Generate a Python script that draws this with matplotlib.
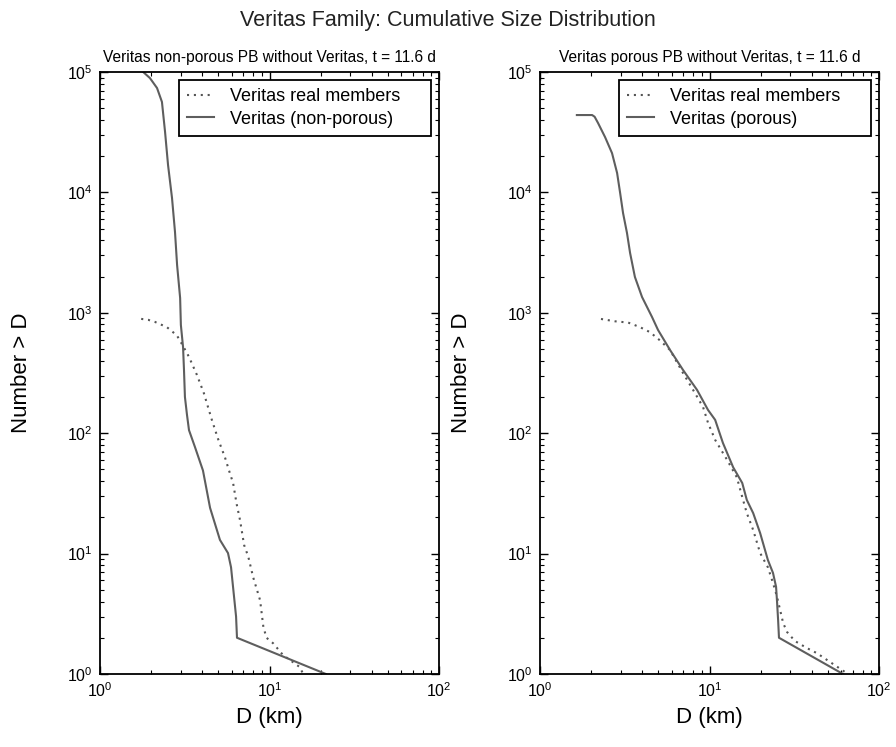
import numpy as np
import matplotlib
matplotlib.use("Agg")
import matplotlib.pyplot as plt

plt.rcParams["font.family"] = ["Liberation Sans", "DejaVu Sans"]
plt.rcParams["mathtext.default"] = "regular"

# left panel: non-porous
np_real_d = [1.75, 1.92, 2.11, 2.48, 2.84, 3.09, 3.35, 3.73, 4.1, 4.57, 4.98, 5.46, 5.77,
             6.1, 6.4, 6.7, 7.08, 7.5, 8.0, 8.8, 9.2, 9.6, 10.5, 12.0, 15.1, 15.8]
np_real_n = [890, 875, 840, 760, 650, 530, 430, 305, 215, 129, 89, 63, 49,
             38.5, 25.8, 19, 11.8, 9.4, 6.4, 4.1, 2.46, 2.0, 1.8, 1.44, 1.14, 1.0]
np_sim_d = [1.65, 1.77, 1.97, 2.17, 2.32, 2.42, 2.52, 2.66, 2.77, 2.85, 2.97, 3.0, 3.09,
            3.13, 3.17, 3.26, 3.35, 3.63, 4.05, 4.46, 5.1, 5.69, 5.93, 6.35, 6.43, 21.5]
np_sim_n = [1.15e5, 1.02e5, 8.91e4, 7.36e4, 5.64e4, 3.18e4, 1.69e4, 8980, 4690, 2490, 1327,
            792, 520, 335, 200, 142, 106, 77, 49, 24, 13, 10.1, 7.7, 3.0, 2.0, 1.0]

# right panel: porous
p_real_d = [2.29, 2.77, 3.31, 3.89, 4.46, 5.1, 5.85, 6.98, 8.0, 9.16, 9.8, 10.8, 12.7,
            14.5, 15.6, 16.6, 18.1, 19.9, 22.1, 23.7, 25.0, 26.1, 27.2, 28.7, 31.9,
            37.6, 43.0, 65.6]
p_real_n = [889, 850, 830, 760, 690, 590, 491, 316, 229, 165, 122, 88, 60,
            43, 29.5, 21.7, 15.7, 10.1, 7.7, 5.7, 4.4, 3.4, 2.65, 2.23, 1.88,
            1.64, 1.49, 1.0]
p_sim_d = [1.65, 2.03, 2.1, 2.20, 2.42, 2.66, 2.85, 2.97, 3.09, 3.26, 3.40, 3.63, 4.0,
           4.58, 4.97, 5.85, 6.98, 8.44, 9.8, 10.8, 12.0, 13.8, 15.6, 16.6, 18.1,
           19.9, 22.1, 23.7, 24.7, 25.0, 25.4, 25.7, 61.3]
p_sim_n = [43900, 43900, 42500, 37700, 28800, 21200, 14500, 9890, 6740, 4600, 3140, 1985,
           1352, 923, 720, 491, 335, 229, 156, 129, 83, 52, 38.6, 27.9, 21.7,
           14.8, 8.85, 6.9, 5.3, 4.1, 2.8, 2.0, 1.0]

panels = [
    ("Veritas non-porous PB without Veritas, t = 11.6 d", "Veritas (non-porous)",
     np_real_d, np_real_n, np_sim_d, np_sim_n),
    ("Veritas porous PB without Veritas, t = 11.6 d", "Veritas (porous)",
     p_real_d, p_real_n, p_sim_d, p_sim_n),
]

fig = plt.figure(figsize=(8.96, 7.47), dpi=100)
fig.text(0.5, 0.973, "Veritas Family: Cumulative Size Distribution",
         ha="center", va="center", fontsize=15.5, color="#222222")

lefts = [100 / 896, 540 / 896]
for left, (title, sim_label, rd, rn, sd, sn) in zip(lefts, panels):
    ax = fig.add_axes([left, 73 / 747, 339 / 896, 602 / 747])
    ax.plot(rd, rn, color="#555555", lw=1.5, linestyle=(0, (1, 2.3)),
            label="Veritas real members")
    ax.plot(sd, sn, color="#5e5e5e", lw=1.5, label=sim_label)
    ax.set_xscale("log")
    ax.set_yscale("log")
    ax.set_xlim(1, 100)
    ax.set_ylim(1, 1e5)
    ax.tick_params(which="both", direction="in", top=True, right=True,
                   labelsize=11.5, pad=5)
    ax.tick_params(which="major", length=6, width=1)
    ax.tick_params(which="minor", length=3, width=0.8)
    for s in ax.spines.values():
        s.set_linewidth(1.3)
    ax.set_title(title, fontsize=11.2, pad=7)
    ax.set_xlabel("D (km)", fontsize=16)
    ax.set_ylabel("Number > D", fontsize=16)
    ax.xaxis.set_label_coords(0.5, -0.055)
    ax.yaxis.set_label_coords(-0.2, 0.5)
    leg = ax.legend(loc="upper left", bbox_to_anchor=(0.233, 0.0, 0.743, 0.9867),
                    mode="expand", fontsize=13, fancybox=False, borderaxespad=0,
                    handlelength=1.5, handletextpad=0.9, borderpad=0.45,
                    labelspacing=0.3, framealpha=1)
    leg.get_frame().set_edgecolor("black")
    leg.get_frame().set_linewidth(1.3)

plt.savefig("out.png", dpi=100)
